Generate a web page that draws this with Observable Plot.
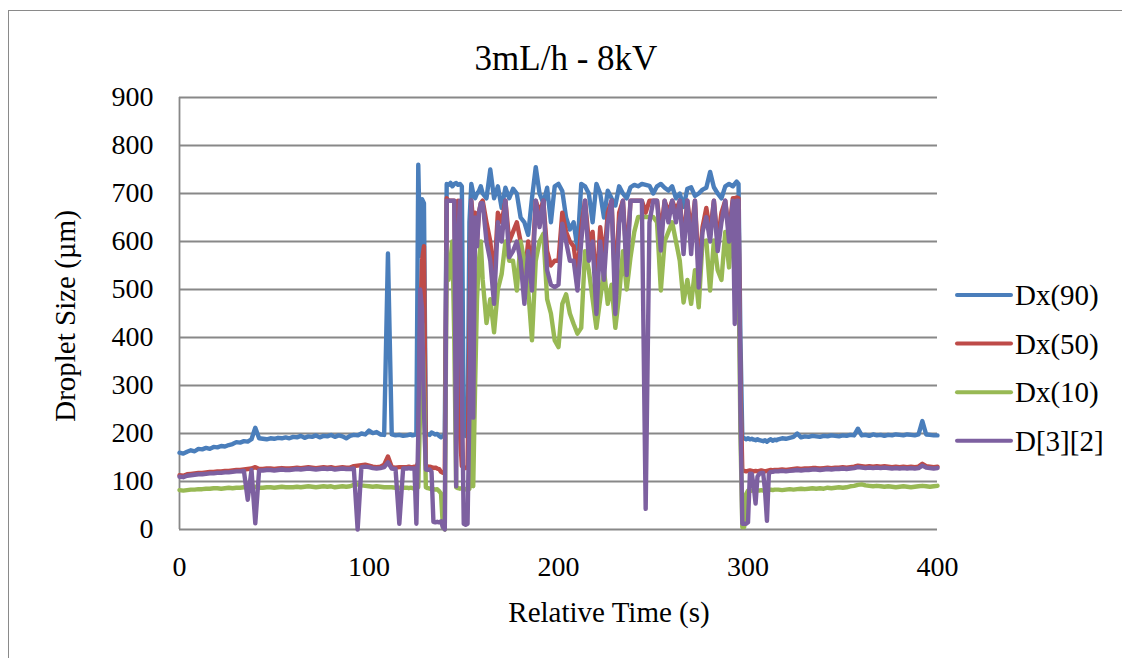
<!DOCTYPE html>
<html>
<head>
<meta charset="utf-8">
<script src="https://cdn.jsdelivr.net/npm/d3@7"></script>
<script src="https://cdn.jsdelivr.net/npm/@observablehq/plot@0.6"></script>
<style>
  html, body { margin: 0; padding: 0; background: #fff; overflow: hidden; }
  #wrap { position: relative; width: 1122px; height: 658px; overflow: hidden; background: #fff; }
  #frame { position: absolute; left: 8px; top: 10px; width: 1400px; height: 900px; border: 1.5px solid #8a8a8a; box-sizing: border-box; }
  #chart { position: absolute; left: 0; top: 0; }
  #chart svg, #chart svg text, #overlay, #overlay text { font-family: "Liberation Serif", "Times New Roman", serif !important; }
  #overlay { position: absolute; left: 0; top: 0; pointer-events: none; }
</style>
</head>
<body>
<div id="wrap">
  <div id="frame"></div>
  <div id="chart"></div>
  <svg id="overlay" width="1122" height="658"></svg>
</div>
<script>
// ---- Text ----
const titleText = "3mL/h - 8kV";
const xLabel = "Relative Time (s)";
const yLabel = "Droplet Size (µm)";

// ---- Categories / ticks ----
const seriesNames = ["Dx(90)", "Dx(50)", "Dx(10)", "D[3][2]"];
const seriesColors = ["#4A7EBB", "#BE4B48", "#98B954", "#7D60A0"];
const xTicks = [0, 100, 200, 300, 400];
const yTicks = [0, 100, 200, 300, 400, 500, 600, 700, 800, 900];

// ---- Sample times (s) ----
const time = [
  ...d3.range(0, 120, 2),
  ...d3.range(120, 160, 1),
  ...d3.range(160, 293, 2),
  ...d3.range(293, 316, 1),
  ...d3.range(316, 401, 2)
];

// ---- Series values (µm) ----
const dx90 = [
  160,158,162,165,163,168,167,170,168,172, 171,174,173,176,178,182,181,184,183,188,
  212,190,189,188,190,189,191,190,192,190, 193,192,195,191,194,193,196,192,195,194,
  197,193,196,194,190,195,197,196,200,198, 206,201,203,198,197,575,198,196,197,195,
  196,197,198,196,197,198,760,570,688,680, 200,198,197,202,200,198,199,195,192,195,
  200,720,718,722,715,720,722,718,720,715, 200,195,197,640,720,700,690,700,705,715,
  700,690,750,690,715,670,712,690,710,700, 650,640,614,690,755,700,680,712,640,715,
  720,705,650,625,640,585,720,715,700,640, 720,700,650,706,690,675,715,700,690,713,
  718,715,720,718,716,700,715,720,712,706, 715,690,700,672,710,713,695,700,708,712,
  745,713,700,690,715,720,715,
  720,725,720,400,192,190,188,190,188,189, 187,186,188,186,185,184,186,183,186,188, 185,187,186,
  188,190,189,191,193,200,192,194,193,195, 194,193,195,194,196,195,194,196,195,197,
  196,210,196,197,195,198,196,197,195,197, 196,198,197,196,198,197,196,198,226,198,
  197,196,196
];
const dx50 = [
  113,112,115,116,117,118,118,119,120,120, 121,121,122,122,123,124,124,125,126,127,
  130,126,126,127,127,126,127,128,127,127, 128,129,128,129,130,129,128,129,130,129,
  130,128,129,130,129,129,132,133,134,135, 133,131,130,131,135,152,130,129,130,130,
  130,131,130,130,131,130,140,420,560,590, 135,130,131,130,128,129,127,126,120,118,
  122,690,685,685,685,685,420,685,200,132, 130,128,130,400,685,640,660,600,660,680,
  685,640,600,520,660,640,685,600,620,640, 600,520,600,540,685,660,685,580,550,560,
  560,660,620,600,590,530,630,685,600,620, 500,630,560,660,685,500,660,685,560,685,
  685,685,685,660,685,685,685,620,685,660, 685,665,685,600,685,620,685,540,630,670,
  620,685,600,660,685,620,690,
  690,692,690,300,123,122,121,122,123,122, 121,122,121,122,123,122,121,122,123,124, 123,124,124,
  124,125,124,125,126,127,126,127,127,128, 128,127,128,129,128,129,129,130,129,130,
  131,133,132,131,132,131,132,131,132,131, 130,131,130,131,130,131,130,131,137,132,
  131,130,131
];
const dx10 = [
  82,81,82,83,83,84,84,85,85,86, 86,85,86,87,86,87,87,88,88,89,
  89,87,87,88,88,87,88,89,88,88, 88,89,88,89,90,89,88,89,90,89,
  90,88,89,90,89,90,93,94,92,91, 90,89,90,89,88,88,88,87,87,87,
  87,86,87,86,86,87,88,250,430,300, 88,86,85,86,84,83,84,80,75,5,
  0,580,520,560,600,400,88,86,85,86, 85,84,82,85,230,90,300,480,560,600,
  520,430,480,411,500,532,600,560,560,498, 600,560,500,394,560,600,616,480,450,394,
  380,470,490,450,428,408,420,580,540,480, 420,480,540,470,510,420,488,580,500,567,
  620,651,651,651,651,651,640,498,600,620, 640,600,560,473,520,470,540,463,600,602,
  498,602,540,520,620,546,651,
  600,651,550,200,5,5,74,81,80,81, 82,81,82,81,82,81,82,81,82,83, 82,83,83,
  83,82,83,84,83,84,85,84,85,86, 85,86,85,87,86,87,88,87,88,90,
  91,93,94,92,91,90,91,90,89,90, 89,88,89,90,89,88,89,90,91,90,
  89,90,91
];
const d32 = [
  110,109,112,113,114,115,115,116,117,117, 118,118,119,119,120,121,121,122,62,124,
  13,123,123,124,124,123,124,125,124,124, 125,126,125,126,127,126,125,126,127,126,
  127,125,126,127,126,126,127,0,130,131, 130,128,127,128,130,140,127,126,12,127,
  127,128,127,127,127,12,200,500,460,250, 125,124,125,120,16,15,16,15,17,5,
  0,685,685,685,685,685,90,600,685,300, 12,10,12,250,685,233,650,590,660,680,
  680,600,560,470,640,600,685,567,580,600, 560,470,580,498,685,630,685,540,510,505,
  510,637,600,560,560,498,600,685,560,600, 449,600,520,640,685,449,637,685,530,685,
  685,685,685,43,640,685,685,581,685,640, 685,640,685,574,685,574,685,504,620,651,
  600,685,580,640,685,600,685,
  428,685,685,250,12,12,12,15,116,116, 90,54,110,116,118,118,80,18,116,120, 120,121,121,
  121,122,121,122,123,124,123,124,124,125, 125,124,125,126,125,126,126,127,126,127,
  128,130,129,128,129,128,129,128,129,128, 127,128,127,128,127,128,127,128,133,129,
  128,127,128
];

const seriesValues = [dx90, dx50, dx10, d32];
const data = seriesNames.flatMap((name, s) =>
  time.map((t, i) => ({series: name, time: t, value: seriesValues[s][i]}))
);

const fontFamily = "Liberation Serif, Times New Roman, serif";

const chart = Plot.plot({
  width: 1122,
  height: 658,
  marginLeft: 179,
  marginRight: 185,
  marginTop: 97,
  marginBottom: 129,
  style: {fontFamily, fontSize: "28px", color: "#000", background: "transparent", overflow: "visible"},
  x: {domain: [0, 400], ticks: xTicks, tickSize: 0, tickPadding: 27, label: null, tickFormat: d3.format("d")},
  y: {domain: [0, 900], ticks: yTicks, tickSize: 0, tickPadding: 26, label: null, tickFormat: d3.format("d")},
  color: {domain: seriesNames, range: seriesColors},
  marks: [
    Plot.gridY(yTicks, {stroke: "#888888", strokeOpacity: 1, strokeWidth: 1.8}),
    Plot.ruleX([0], {stroke: "#888888", strokeWidth: 1.8}),
    Plot.line(data, {x: "time", y: "value", z: "series", stroke: "series", strokeWidth: 4.4, strokeLinejoin: "round", strokeLinecap: "round"})
  ]
});
document.getElementById("chart").appendChild(chart);

// ---- Overlay: title, axis titles, legend ----
const ov = d3.select("#overlay");
ov.append("text").attr("x", 566).attr("y", 70).attr("text-anchor", "middle")
  .attr("font-size", 35).attr("fill", "#000").text(titleText);
ov.append("text").attr("x", 609).attr("y", 622).attr("text-anchor", "middle")
  .attr("font-size", 29).attr("fill", "#000").text(xLabel);
ov.append("text").attr("transform", "translate(75,316) rotate(-90)").attr("text-anchor", "middle")
  .attr("font-size", 29).attr("fill", "#000").text(yLabel);

const leg = ov.append("g");
seriesNames.forEach((name, i) => {
  const cy = 295 + i * 48.6;
  leg.append("line").attr("x1", 957).attr("x2", 1011).attr("y1", cy).attr("y2", cy)
    .attr("stroke", seriesColors[i]).attr("stroke-width", 4).attr("stroke-linecap", "round");
  leg.append("text").attr("x", 1015).attr("y", cy + 10).attr("font-size", 29).attr("fill", "#000").text(name);
});
</script>
</body>
</html>
